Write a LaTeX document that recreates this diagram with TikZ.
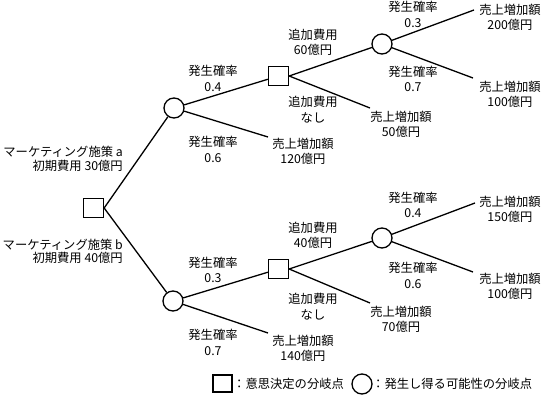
\documentclass[tikz,border=0pt]{standalone}
\usepackage{fontspec}
\setmainfont{Noto Sans CJK JP}
\begin{document}
\begin{tikzpicture}[x=1pt,y=-1pt,
  decbox/.style={draw,rectangle,minimum width=20pt,minimum height=19pt,inner sep=0pt,line width=1.3pt,fill=white},
  chancenode/.style={draw,circle,minimum size=20pt,inner sep=0pt,line width=1.3pt,fill=white},
  lbl/.style={align=center,font=\fontsize{12.3}{15.5}\selectfont,inner sep=0pt},
  leftlbl/.style={align=right,font=\fontsize{12.3}{13.5}\selectfont,inner sep=0pt,anchor=east},
  legtxt/.style={font=\fontsize{12.3}{13}\selectfont,inner sep=0pt,anchor=west},
  edge/.style={line width=1.3pt}]
\useasboundingbox (0,0) rectangle (554,401);

% decision / chance nodes
\node[decbox] (root) at (93.5,208) {};
\node[chancenode] (c1) at (174,108) {};
\node[chancenode] (c2) at (173,301) {};
\node[decbox] (d1) at (278.5,76) {};
\node[decbox] (d2) at (278.5,269) {};
\node[chancenode] (c3) at (382,44) {};
\node[chancenode] (c4) at (382,238) {};

% free ends
\coordinate (e120) at (268,137);
\coordinate (e50) at (370,108);
\coordinate (e200) at (474,10);
\coordinate (e100a) at (473,78);
\coordinate (e140) at (268,333);
\coordinate (e70) at (370,303);
\coordinate (e150) at (475,203);
\coordinate (e100b) at (473,272);

% connectors
\draw[edge] (root.east) -- (c1);
\draw[edge] (root.east) -- (c2);
\draw[edge] (c1) -- (d1);
\draw[edge] (c1) -- (e120);
\draw[edge] (d1.east) -- (c3);
\draw[edge] (d1.east) -- (e50);
\draw[edge] (c3) -- (e200);
\draw[edge] (c3) -- (e100a);
\draw[edge] (c2) -- (d2);
\draw[edge] (c2) -- (e140);
\draw[edge] (d2.east) -- (c4);
\draw[edge] (d2.east) -- (e70);
\draw[edge] (c4) -- (e150);
\draw[edge] (c4) -- (e100b);

% left labels
\node[leftlbl] (la) at (123,159) {マーケティング施策 a\\初期費用 30億円};
\node[leftlbl] (lb) at (123,251.5) {マーケティング施策 b\\初期費用 40億円};

% upper branch labels
\node[lbl] (p04a) at (213,78.5) {発生確率\\0.4};
\node[lbl] (p06a) at (213,149.5) {発生確率\\0.6};
\node[lbl] (add60) at (313,42.5) {追加費用\\60億円};
\node[lbl] (nonea) at (313,109.5) {追加費用\\なし};
\node[lbl] (r120) at (303,151.5) {売上増加額\\120億円};
\node[lbl] (r50) at (401,124.5) {売上増加額\\50億円};
\node[lbl] (p03a) at (413,14.5) {発生確率\\0.3};
\node[lbl] (p07a) at (413,79) {発生確率\\0.7};
\node[lbl] (r200) at (510,17.5) {売上増加額\\200億円};
\node[lbl] (r100a) at (510,94.5) {売上増加額\\100億円};

% lower branch labels
\node[lbl] (p03b) at (213,270) {発生確率\\0.3};
\node[lbl] (p07b) at (213,342.5) {発生確率\\0.7};
\node[lbl] (add40) at (313,235.5) {追加費用\\40億円};
\node[lbl] (noneb) at (313,306.5) {追加費用\\なし};
\node[lbl] (r140) at (303,348.5) {売上増加額\\140億円};
\node[lbl] (r70) at (401,319.5) {売上増加額\\70億円};
\node[lbl] (p04b) at (413,205) {発生確率\\0.4};
\node[lbl] (p06b) at (413,275.5) {発生確率\\0.6};
\node[lbl] (r150) at (510,209.5) {売上増加額\\150億円};
\node[lbl] (r100b) at (510,286.5) {売上増加額\\100億円};

% legend
\node[decbox,minimum width=19pt,minimum height=17pt] (legsq) at (222.5,383.5) {};
\node[legtxt] (legsqt) at (233,384) {：意思決定の分岐点};
\node[chancenode] (legci) at (362,384) {};
\node[legtxt] (legcit) at (372,384) {：発生し得る可能性の分岐点};
\end{tikzpicture}
\end{document}
